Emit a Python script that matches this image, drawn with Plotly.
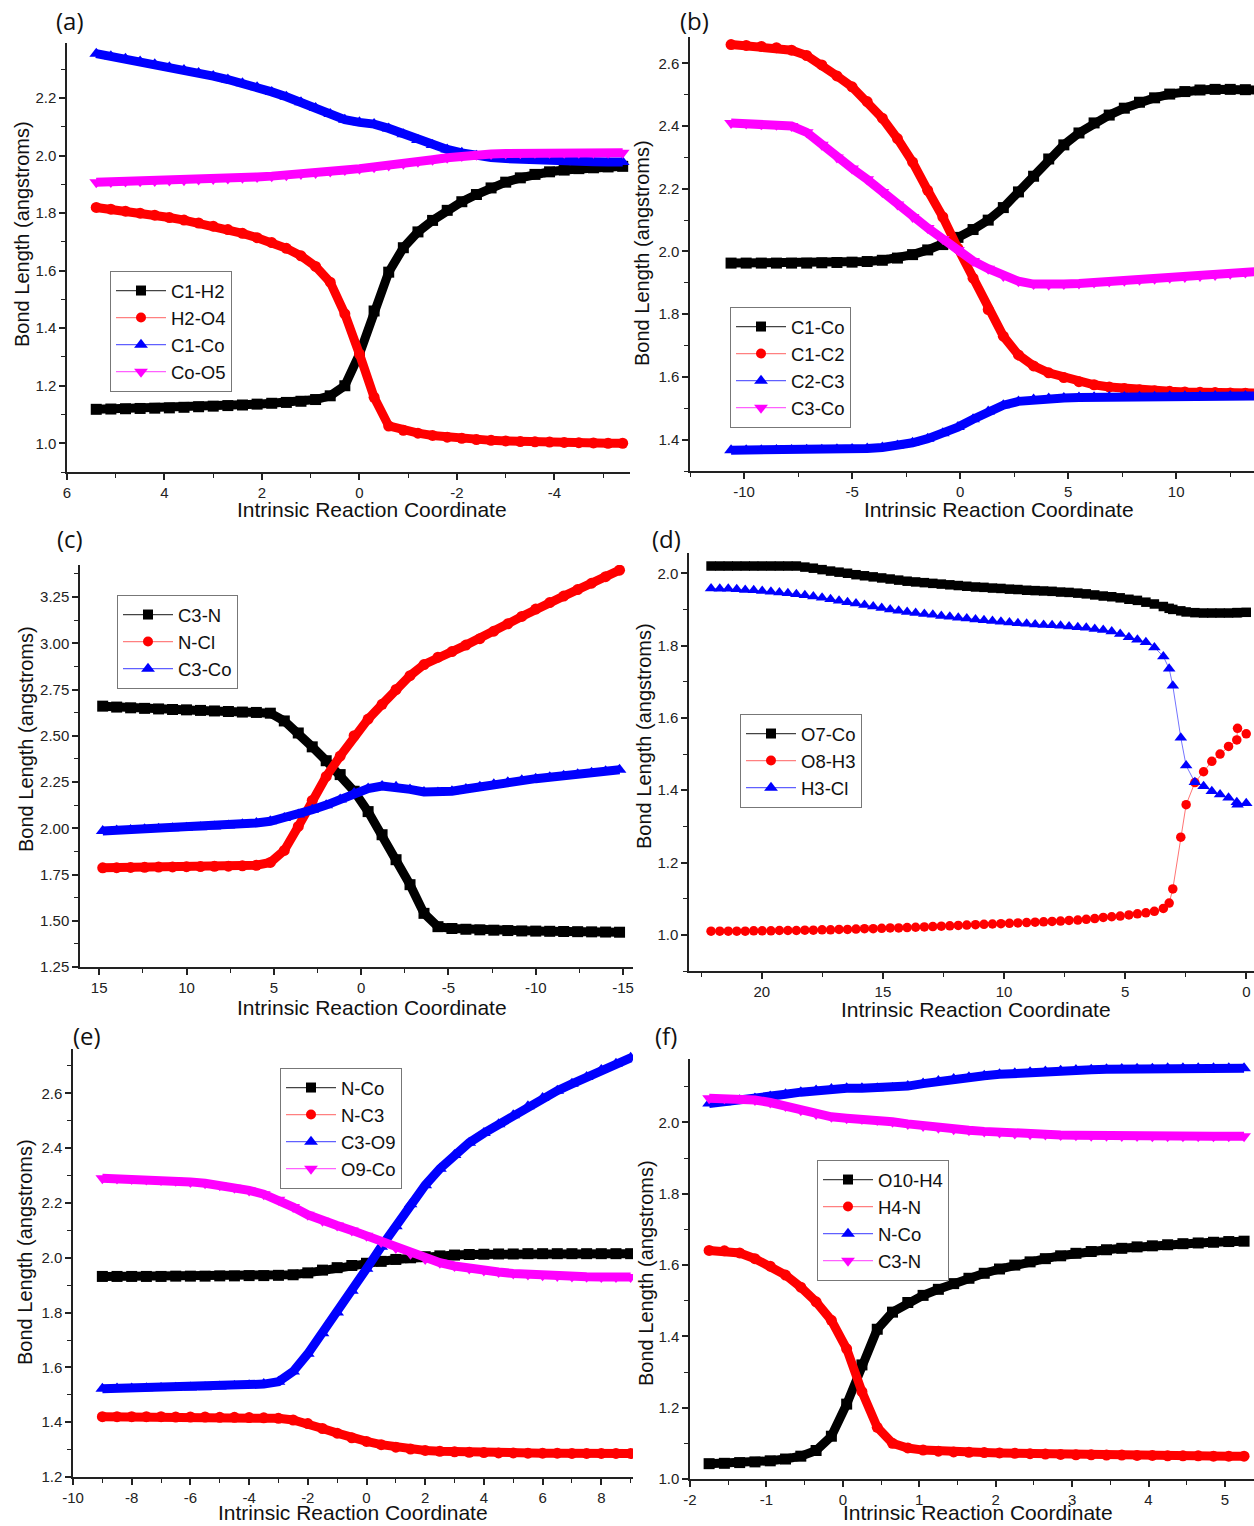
import plotly.graph_objects as go

W, H = 1254, 1526

# ---------------- DATA ----------------
# (a)
A_X = [5.4, 5.1, 4.8, 4.5, 4.2, 3.9, 3.6, 3.3, 3.0, 2.7, 2.4, 2.1, 1.8, 1.5, 1.2, 0.9, 0.6, 0.3, 0.0,
       -0.3, -0.6, -0.9, -1.2, -1.5, -1.8, -2.1, -2.4, -2.7, -3.0, -3.3, -3.6, -3.9, -4.2, -4.5, -4.8, -5.1, -5.4]
A_C1H2 = [1.118, 1.119, 1.120, 1.121, 1.122, 1.123, 1.125, 1.127, 1.129, 1.131, 1.133, 1.136, 1.139, 1.142, 1.146,
          1.152, 1.165, 1.200, 1.310, 1.460, 1.595, 1.680, 1.735, 1.775, 1.810, 1.840, 1.865, 1.888, 1.908, 1.923,
          1.935, 1.944, 1.950, 1.955, 1.958, 1.961, 1.963]
A_H2O4 = [1.820, 1.814, 1.807, 1.800, 1.793, 1.785, 1.776, 1.766, 1.755, 1.743, 1.730, 1.715, 1.698, 1.678, 1.652,
          1.615, 1.560, 1.450, 1.310, 1.160, 1.060, 1.045, 1.035, 1.027, 1.021, 1.017, 1.013, 1.010, 1.008, 1.006,
          1.005, 1.004, 1.003, 1.002, 1.001, 1.000, 1.000]
A_C1Co = [2.355, 2.346, 2.337, 2.328, 2.318, 2.308, 2.298, 2.288, 2.277, 2.265, 2.252, 2.238, 2.222, 2.205, 2.186,
          2.166, 2.145, 2.125, 2.116, 2.110, 2.095, 2.075, 2.055, 2.037, 2.022, 2.010, 2.000, 1.994, 1.990, 1.987,
          1.985, 1.983, 1.981, 1.980, 1.979, 1.978, 1.978]
A_CoO5 = [1.908, 1.909, 1.910, 1.911, 1.912, 1.914, 1.915, 1.917, 1.919, 1.921, 1.923, 1.926, 1.929, 1.932, 1.936,
          1.940, 1.945, 1.950, 1.955, 1.960, 1.966, 1.972, 1.979, 1.986, 1.993, 1.999, 2.003, 2.006, 2.008, 2.009,
          2.010, 2.010, 2.010, 2.010, 2.010, 2.010, 2.010]
A_XTICKS = [6, 4, 2, 0, -2, -4]
A_YTICKS = [1.0, 1.2, 1.4, 1.6, 1.8, 2.0, 2.2]

# (b)
B_X = [-10.6, -9.9, -9.2, -8.5, -7.8, -7.1, -6.4, -5.7, -5.0, -4.3, -3.6, -2.9, -2.2, -1.5, -0.8, -0.1, 0.6, 1.3,
       2.0, 2.7, 3.4, 4.1, 4.8, 5.5, 6.2, 6.9, 7.6, 8.3, 9.0, 9.7, 10.4, 11.1, 11.8, 12.5, 13.2, 13.9]
B_C1Co = [1.963, 1.963, 1.963, 1.963, 1.963, 1.963, 1.964, 1.965, 1.966, 1.968, 1.972, 1.979, 1.990, 2.005, 2.022,
          2.045, 2.070, 2.100, 2.140, 2.190, 2.240, 2.295, 2.340, 2.378, 2.410, 2.435, 2.457, 2.476, 2.490, 2.502,
          2.510, 2.515, 2.517, 2.517, 2.516, 2.515]
B_C1C2 = [2.660, 2.657, 2.654, 2.650, 2.642, 2.625, 2.595, 2.560, 2.525, 2.478, 2.425, 2.360, 2.285, 2.195, 2.110,
          2.010, 1.915, 1.815, 1.730, 1.670, 1.635, 1.613, 1.598, 1.585, 1.575, 1.568, 1.563, 1.559, 1.556, 1.554,
          1.552, 1.551, 1.550, 1.549, 1.548, 1.548]
B_C2C3 = [1.366, 1.366, 1.366, 1.367, 1.367, 1.368, 1.368, 1.369, 1.370, 1.372, 1.375, 1.381, 1.390, 1.403, 1.420,
          1.440, 1.465, 1.490, 1.510, 1.522, 1.528, 1.531, 1.533, 1.534, 1.535, 1.536, 1.536, 1.537, 1.537, 1.538,
          1.538, 1.538, 1.539, 1.539, 1.539, 1.539]
B_C3Co = [2.410, 2.408, 2.406, 2.404, 2.400, 2.380, 2.340, 2.300, 2.265, 2.230, 2.190, 2.150, 2.110, 2.075, 2.040,
          2.005, 1.970, 1.945, 1.922, 1.905, 1.896, 1.894, 1.896, 1.898, 1.901, 1.904, 1.907, 1.910, 1.913, 1.916,
          1.919, 1.922, 1.925, 1.929, 1.933, 1.937]
B_XTICKS = [-10, -5, 0, 5, 10]
B_YTICKS = [1.4, 1.6, 1.8, 2.0, 2.2, 2.4, 2.6]

# (c)
C_X = [14.8, 14.0, 13.2, 12.4, 11.6, 10.8, 10.0, 9.2, 8.4, 7.6, 6.8, 6.0, 5.2, 4.4, 3.6, 2.8, 2.0, 1.2, 0.4, -0.4,
       -1.2, -2.0, -2.8, -3.6, -4.4, -5.2, -6.0, -6.8, -7.6, -8.4, -9.2, -10.0, -10.8, -11.6, -12.4, -13.2, -14.0, -14.8]
C_C3N = [2.660, 2.655, 2.651, 2.648, 2.645, 2.642, 2.640, 2.637, 2.634, 2.631, 2.628, 2.626, 2.622, 2.580, 2.515,
         2.440, 2.365, 2.290, 2.200, 2.090, 1.965, 1.830, 1.695, 1.540, 1.468, 1.458, 1.454, 1.451, 1.449, 1.447,
         1.445, 1.444, 1.443, 1.442, 1.441, 1.440, 1.439, 1.438]
C_NCl = [1.786, 1.787, 1.788, 1.789, 1.790, 1.791, 1.792, 1.793, 1.794, 1.795, 1.797, 1.800, 1.815, 1.880, 2.010,
         2.150, 2.280, 2.390, 2.500, 2.590, 2.670, 2.750, 2.825, 2.885, 2.925, 2.955, 2.990, 3.025, 3.065, 3.105,
         3.145, 3.185, 3.220, 3.255, 3.290, 3.325, 3.360, 3.395]
C_C3Co = [1.985, 1.988, 1.991, 1.994, 1.997, 2.000, 2.003, 2.006, 2.010, 2.015, 2.021, 2.028, 2.038, 2.055, 2.075,
          2.100, 2.125, 2.155, 2.190, 2.215, 2.228, 2.225, 2.210, 2.196, 2.193, 2.200, 2.212, 2.225, 2.238, 2.249,
          2.259, 2.268, 2.276, 2.284, 2.292, 2.300, 2.308, 2.316]
C_XTICKS = [15, 10, 5, 0, -5, -10, -15]
C_YTICKS = [1.25, 1.50, 1.75, 2.00, 2.25, 2.50, 2.75, 3.00, 3.25]

# (d)
D_X = [22.09, 21.73, 21.38, 21.03, 20.68, 20.33, 19.98, 19.62, 19.27, 18.92, 18.57, 18.22, 17.87, 17.51, 17.16,
       16.81, 16.46, 16.11, 15.76, 15.40, 15.05, 14.70, 14.35, 14.00, 13.65, 13.29, 12.94, 12.59, 12.24, 11.89,
       11.54, 11.18, 10.83, 10.48, 10.13, 9.78, 9.43, 9.07, 8.72, 8.37, 8.02, 7.67, 7.32, 6.96, 6.61, 6.26, 5.91,
       5.56, 5.21, 4.85, 4.50, 4.15, 3.80, 3.43, 3.19, 3.04, 2.71, 2.49, 2.13, 1.77, 1.43, 1.09, 0.74, 0.40, 0.37, 0.01]
D_O7Co = [2.020, 2.020, 2.020, 2.020, 2.020, 2.020, 2.020, 2.020, 2.020, 2.020, 2.020,
          2.017, 2.014, 2.010, 2.006, 2.003, 2.000, 1.996, 1.993, 1.990, 1.987,
          1.984, 1.981, 1.978, 1.976, 1.974, 1.972, 1.970, 1.968, 1.966, 1.964,
          1.962, 1.961, 1.959, 1.958, 1.956, 1.955, 1.953, 1.952, 1.951, 1.950,
          1.948, 1.947, 1.945, 1.943, 1.940, 1.937, 1.935, 1.932, 1.928, 1.925,
          1.920, 1.915, 1.908,
          1.903, 1.900, 1.896, 1.893, 1.891, 1.890, 1.890, 1.890, 1.890, 1.891, 1.891, 1.892]
D_O8H3 = [1.010, 1.010, 1.010, 1.010, 1.010, 1.011, 1.011, 1.011, 1.012, 1.012, 1.012, 1.013, 1.013, 1.014, 1.014,
          1.015, 1.015,
          1.016, 1.017, 1.017, 1.018, 1.019, 1.019, 1.020, 1.021, 1.022, 1.023,
          1.024, 1.025, 1.026, 1.027, 1.028, 1.029, 1.030, 1.031, 1.032, 1.033,
          1.034, 1.035, 1.036, 1.037, 1.038, 1.040, 1.041, 1.043, 1.045, 1.048,
          1.050, 1.052, 1.055, 1.058, 1.061, 1.065, 1.073,
          1.088, 1.127, 1.270, 1.360, 1.421, 1.451, 1.480, 1.500, 1.521, 1.539, 1.571, 1.556]
D_H3Cl = [1.958, 1.957, 1.957, 1.956, 1.954, 1.953, 1.951, 1.949, 1.947, 1.945,
          1.942, 1.939, 1.936, 1.932, 1.928, 1.924, 1.920, 1.916, 1.912, 1.908,
          1.904, 1.900, 1.896, 1.893, 1.890, 1.887, 1.885, 1.882, 1.880, 1.877,
          1.875, 1.872, 1.870, 1.868, 1.866, 1.864, 1.862, 1.860, 1.858, 1.857,
          1.856, 1.855, 1.853, 1.851, 1.849, 1.846, 1.843, 1.839, 1.832, 1.823,
          1.816, 1.809, 1.795, 1.770,
          1.736, 1.689, 1.545, 1.468, 1.422, 1.411, 1.397, 1.388, 1.379, 1.367, 1.360, 1.364]
D_XTICKS = [20, 15, 10, 5, 0]
D_YTICKS = [1.0, 1.2, 1.4, 1.6, 1.8, 2.0]

# (e)
E_X = [-9.0, -8.5, -8.0, -7.5, -7.0, -6.5, -6.0, -5.5, -5.0, -4.5, -4.0, -3.5, -3.0, -2.5, -2.0, -1.5, -1.0, -0.5,
       0.0, 0.5, 1.0, 1.5, 2.0, 2.5, 3.0, 3.5, 4.0, 4.5, 5.0, 5.5, 6.0, 6.5, 7.0, 7.5, 8.0, 8.5, 9.0]
E_NCo = [1.932, 1.932, 1.932, 1.932, 1.932, 1.933, 1.933, 1.933, 1.934, 1.934, 1.935, 1.935, 1.936, 1.938, 1.945,
         1.955, 1.964, 1.972, 1.980, 1.987, 1.994, 2.000, 2.004, 2.007, 2.010, 2.012, 2.013, 2.014, 2.014, 2.015,
         2.015, 2.015, 2.015, 2.015, 2.015, 2.015, 2.015]
E_NC3 = [1.420, 1.420, 1.420, 1.420, 1.420, 1.419, 1.419, 1.419, 1.418, 1.418, 1.417, 1.416, 1.414, 1.408, 1.395,
         1.377, 1.360, 1.343, 1.330, 1.318, 1.309, 1.302, 1.297, 1.294, 1.292, 1.290, 1.289, 1.288, 1.288, 1.287,
         1.287, 1.287, 1.286, 1.286, 1.286, 1.286, 1.286]
E_C3O9 = [1.522, 1.523, 1.523, 1.524, 1.525, 1.526, 1.527, 1.528, 1.530, 1.532, 1.535, 1.539, 1.548, 1.585, 1.650,
          1.725, 1.800, 1.880, 1.960, 2.040, 2.115, 2.195, 2.265, 2.325, 2.375, 2.420, 2.455, 2.487, 2.520, 2.553,
          2.583, 2.610, 2.635, 2.660, 2.685, 2.708, 2.730]
E_O9Co = [2.290, 2.289, 2.288, 2.286, 2.284, 2.281, 2.277, 2.272, 2.265, 2.256, 2.246, 2.232, 2.212, 2.185, 2.157,
          2.135, 2.118, 2.100, 2.080, 2.058, 2.036, 2.015, 1.996, 1.982, 1.970, 1.961, 1.954, 1.948, 1.943, 1.939,
          1.936, 1.934, 1.932, 1.931, 1.930, 1.930, 1.930]
E_XTICKS = [-10, -8, -6, -4, -2, 0, 2, 4, 6, 8]
E_YTICKS = [1.2, 1.4, 1.6, 1.8, 2.0, 2.2, 2.4, 2.6]

# (f)
F_X = [-1.75, -1.55, -1.35, -1.15, -0.95, -0.75, -0.55, -0.35, -0.15, 0.05, 0.25, 0.45, 0.65, 0.85, 1.05, 1.25,
       1.45, 1.65, 1.85, 2.05, 2.25, 2.45, 2.65, 2.85, 3.05, 3.25, 3.45, 3.65, 3.85, 4.05, 4.25, 4.45, 4.65, 4.85,
       5.05, 5.25]
F_O10H4 = [1.043, 1.044, 1.046, 1.048, 1.051, 1.056, 1.064, 1.080, 1.120, 1.210, 1.320, 1.420, 1.468, 1.495, 1.515,
           1.532, 1.548, 1.563, 1.577, 1.589, 1.600, 1.609, 1.618, 1.626, 1.633, 1.638, 1.643, 1.647, 1.651, 1.654,
           1.657, 1.660, 1.662, 1.664, 1.666, 1.667]
F_H4N = [1.641, 1.640, 1.634, 1.618, 1.597, 1.572, 1.538, 1.497, 1.445, 1.365, 1.245, 1.145, 1.100, 1.087, 1.081,
         1.078, 1.076, 1.075, 1.074, 1.073, 1.072, 1.071, 1.070, 1.069, 1.068, 1.068, 1.067, 1.067, 1.066, 1.066,
         1.065, 1.065, 1.065, 1.064, 1.064, 1.064]
F_NCo = [2.053, 2.057, 2.062, 2.067, 2.073, 2.079, 2.085, 2.090, 2.094, 2.096, 2.096, 2.096, 2.097, 2.102, 2.109,
         2.116, 2.122, 2.127, 2.131, 2.135, 2.138, 2.141, 2.143, 2.145, 2.147, 2.148, 2.149, 2.150, 2.151, 2.151,
         2.152, 2.152, 2.152, 2.152, 2.152, 2.152]
F_C3N = [2.068, 2.068, 2.067, 2.063, 2.056, 2.046, 2.034, 2.024, 2.016, 2.012, 2.010, 2.007, 2.002, 1.996, 1.990,
         1.985, 1.981, 1.978, 1.975, 1.972, 1.969, 1.967, 1.966, 1.965, 1.964, 1.963, 1.963, 1.962, 1.962, 1.961,
         1.961, 1.961, 1.961, 1.961, 1.961, 1.961]
F_XTICKS = [-2, -1, 0, 1, 2, 3, 4, 5]
F_YTICKS = [1.0, 1.2, 1.4, 1.6, 1.8, 2.0]

PANEL_LABELS = ["(a)", "(b)", "(c)", "(d)", "(e)", "(f)"]
X_TITLE = "Intrinsic Reaction Coordinate"
Y_TITLE = "Bond Length (angstroms)"

# ---------------- STYLE / LAYOUT ----------------
FONT = '"Liberation Sans", Arial, sans-serif'
LABEL_FONT = '"Open Sans", "Liberation Sans", sans-serif'
AX = "#222222"
COL = dict(k="#000000", r="#ff0000", b="#0000ff", m="#ff00ff")
LEGLINE = dict(k="#444444", r="#ff8080", b="#6060ff", m="#ff60ff")
THINLINE = dict(k="rgba(0,0,0,0.6)", r="rgba(255,0,0,0.55)", b="rgba(0,0,255,0.55)", m="rgba(255,0,255,0.55)")
SYM = dict(k="square", r="circle", b="triangle-up", m="triangle-down")


def fx(px):
    return px / W


def fy(py):
    return 1 - py / H


def fmt_ticks(vals, nd):
    # plain hyphen-minus labels, as in the original figure
    return [("%." + str(nd) + "f") % v for v in vals]


panels = [
    dict(x=A_X, series=[("C1-H2", "k", A_C1H2), ("H2-O4", "r", A_H2O4), ("C1-Co", "b", A_C1Co), ("Co-O5", "m", A_CoO5)],
         xr=[6, -5.55], yr=[0.9, 2.392], xt_v=A_XTICKS, xnd=0, yt_v=A_YTICKS, ynd=1, xm=1, ym=0.1,
         dx=(67, 630), dy=(43, 472), leg=(110, 271), lab=(70, 20), yt=(22, 234), xt=(372, 510), dense=True),
    dict(x=B_X, series=[("C1-Co", "k", B_C1Co), ("C1-C2", "r", B_C1C2), ("C2-C3", "b", B_C2C3), ("C3-Co", "m", B_C3Co)],
         xr=[-12.5, 13.6], yr=[1.3, 2.684], xt_v=B_XTICKS, xnd=0, yt_v=B_YTICKS, ynd=1, xm=2.5, ym=0.1,
         dx=(690, 1254), dy=(37, 471), leg=(730, 307), lab=(694, 20), yt=(642, 253), xt=(999, 510), dense=True),
    dict(x=C_X, series=[("C3-N", "k", C_C3N), ("N-Cl", "r", C_NCl), ("C3-Co", "b", C_C3Co)],
         xr=[16.1, -15.57], yr=[1.25, 3.423], xt_v=C_XTICKS, xnd=0, yt_v=C_YTICKS, ynd=2, xm=2.5, ym=0.125,
         dx=(80, 633), dy=(565, 967), leg=(117, 595), lab=(70, 538), yt=(26, 739), xt=(372, 1007), dense=True),
    dict(x=D_X, series=[("O7-Co", "k", D_O7Co), ("O8-H3", "r", D_O8H3), ("H3-Cl", "b", D_H3Cl)],
         xr=[23.0, -0.31], yr=[0.9, 2.056], xt_v=D_XTICKS, xnd=0, yt_v=D_YTICKS, ynd=1, xm=2.5, ym=0.1,
         dx=(689, 1254), dy=(553, 971), leg=(740, 714), lab=(666, 538), yt=(644, 736), xt=(976, 1009), dense=False),
    dict(x=E_X, series=[("N-Co", "k", E_NCo), ("N-C3", "r", E_NC3), ("C3-O9", "b", E_C3O9), ("O9-Co", "m", E_O9Co)],
         xr=[-10, 9.08], yr=[1.2, 2.762], xt_v=E_XTICKS, xnd=0, yt_v=E_YTICKS, ynd=1, xm=1, ym=0.1,
         dx=(73, 633), dy=(1049, 1477), leg=(280, 1068), lab=(87, 1035), yt=(25, 1252), xt=(353, 1512), dense=True),
    dict(x=F_X, series=[("O10-H4", "k", F_O10H4), ("H4-N", "r", F_H4N), ("N-Co", "b", F_NCo), ("C3-N", "m", F_C3N)],
         xr=[-2, 5.38], yr=[1.0, 2.178], xt_v=F_XTICKS, xnd=0, yt_v=F_YTICKS, ynd=1, xm=0.5, ym=0.1,
         dx=(690, 1254), dy=(1059, 1479), leg=(817, 1160), lab=(666, 1035), yt=(646, 1273), xt=(978, 1512), dense=True),
]

fig = go.Figure()
layout = dict(template="none", width=W, height=H, margin=dict(l=0, r=0, t=0, b=0, autoexpand=False),
              paper_bgcolor="white", plot_bgcolor="white", showlegend=True,
              font=dict(family=FONT, color="#111111"))
annotations = []

for i, p in enumerate(panels, start=1):
    sfx = "" if i == 1 else str(i)
    xa, ya = "x" + sfx, "y" + sfx
    legname = "legend" + sfx
    for name, c, vals in p["series"]:
        if p["dense"]:
            fig.add_trace(go.Scatter(
                x=p["x"], y=vals, mode="lines+markers", xaxis=xa, yaxis=ya, showlegend=False,
                line=dict(color=COL[c], width=9),
                marker=dict(symbol=SYM[c], size=12 if c in ("b", "m") else 11, color=COL[c], line=dict(width=0)),
                cliponaxis=True, hoverinfo="skip"))
        else:
            fig.add_trace(go.Scatter(
                x=p["x"], y=vals, mode="lines+markers", xaxis=xa, yaxis=ya, showlegend=False,
                line=dict(color=THINLINE[c], width=1),
                marker=dict(symbol=SYM[c], size=11 if c == "b" else 9.5, color=COL[c], line=dict(width=0)),
                cliponaxis=True, hoverinfo="skip"))
    for name, c, vals in p["series"]:
        fig.add_trace(go.Scatter(
            x=[None], y=[None], mode="lines+markers", xaxis=xa, yaxis=ya, name=name, legend=legname,
            line=dict(color=LEGLINE[c], width=1.2),
            marker=dict(symbol=SYM[c], size=12 if c in ("b", "m") else 10, color=COL[c], line=dict(width=0))))

    common = dict(showline=True, linecolor=AX, linewidth=1.5, ticks="outside", ticklen=6, tickwidth=1.5,
                  tickcolor=AX, showgrid=False, zeroline=False, mirror=False, automargin=False,
                  tickfont=dict(family=FONT, size=15, color="#222222"))
    layout["xaxis" + sfx] = dict(common, domain=[fx(p["dx"][0]), fx(p["dx"][1])], range=p["xr"], anchor=ya,
                                 tickmode="array", tickvals=p["xt_v"], ticktext=fmt_ticks(p["xt_v"], p["xnd"]),
                                 minor=dict(dtick=p["xm"], tick0=0, ticks="outside", ticklen=4, tickwidth=1.2,
                                            tickcolor=AX, showgrid=False))
    layout["yaxis" + sfx] = dict(common, domain=[fy(p["dy"][1]), fy(p["dy"][0])], range=p["yr"], anchor=xa,
                                 tickmode="array", tickvals=p["yt_v"], ticktext=fmt_ticks(p["yt_v"], p["ynd"]),
                                 minor=dict(dtick=p["ym"], tick0=0, ticks="outside", ticklen=4, tickwidth=1.2,
                                            tickcolor=AX, showgrid=False))
    layout[legname] = dict(x=fx(p["leg"][0]), y=fy(p["leg"][1]), xanchor="left", yanchor="top",
                           bgcolor="white", bordercolor="#777777", borderwidth=1,
                           font=dict(family=FONT, size=18.5, color="#111111"), itemwidth=50,
                           tracegroupgap=0)
    annotations.append(dict(text=PANEL_LABELS[i - 1], x=fx(p["lab"][0]), y=fy(p["lab"][1]), xref="paper",
                            yref="paper", showarrow=False, xanchor="center", yanchor="middle",
                            font=dict(family=LABEL_FONT, size=24, color="#111111")))
    annotations.append(dict(text=Y_TITLE, x=fx(p["yt"][0]), y=fy(p["yt"][1]), xref="paper", yref="paper",
                            showarrow=False, textangle=-90, xanchor="center", yanchor="middle",
                            font=dict(family=FONT, size=20, color="#111111")))
    annotations.append(dict(text=X_TITLE, x=fx(p["xt"][0]), y=fy(p["xt"][1]), xref="paper", yref="paper",
                            showarrow=False, xanchor="center", yanchor="middle",
                            font=dict(family=FONT, size=21, color="#111111")))

layout["annotations"] = annotations
fig.update_layout(**layout)
fig.write_html("out.html", config={"displayModeBar": False},
               post_script="document.body.style.margin='0';document.body.style.overflow='hidden';")
